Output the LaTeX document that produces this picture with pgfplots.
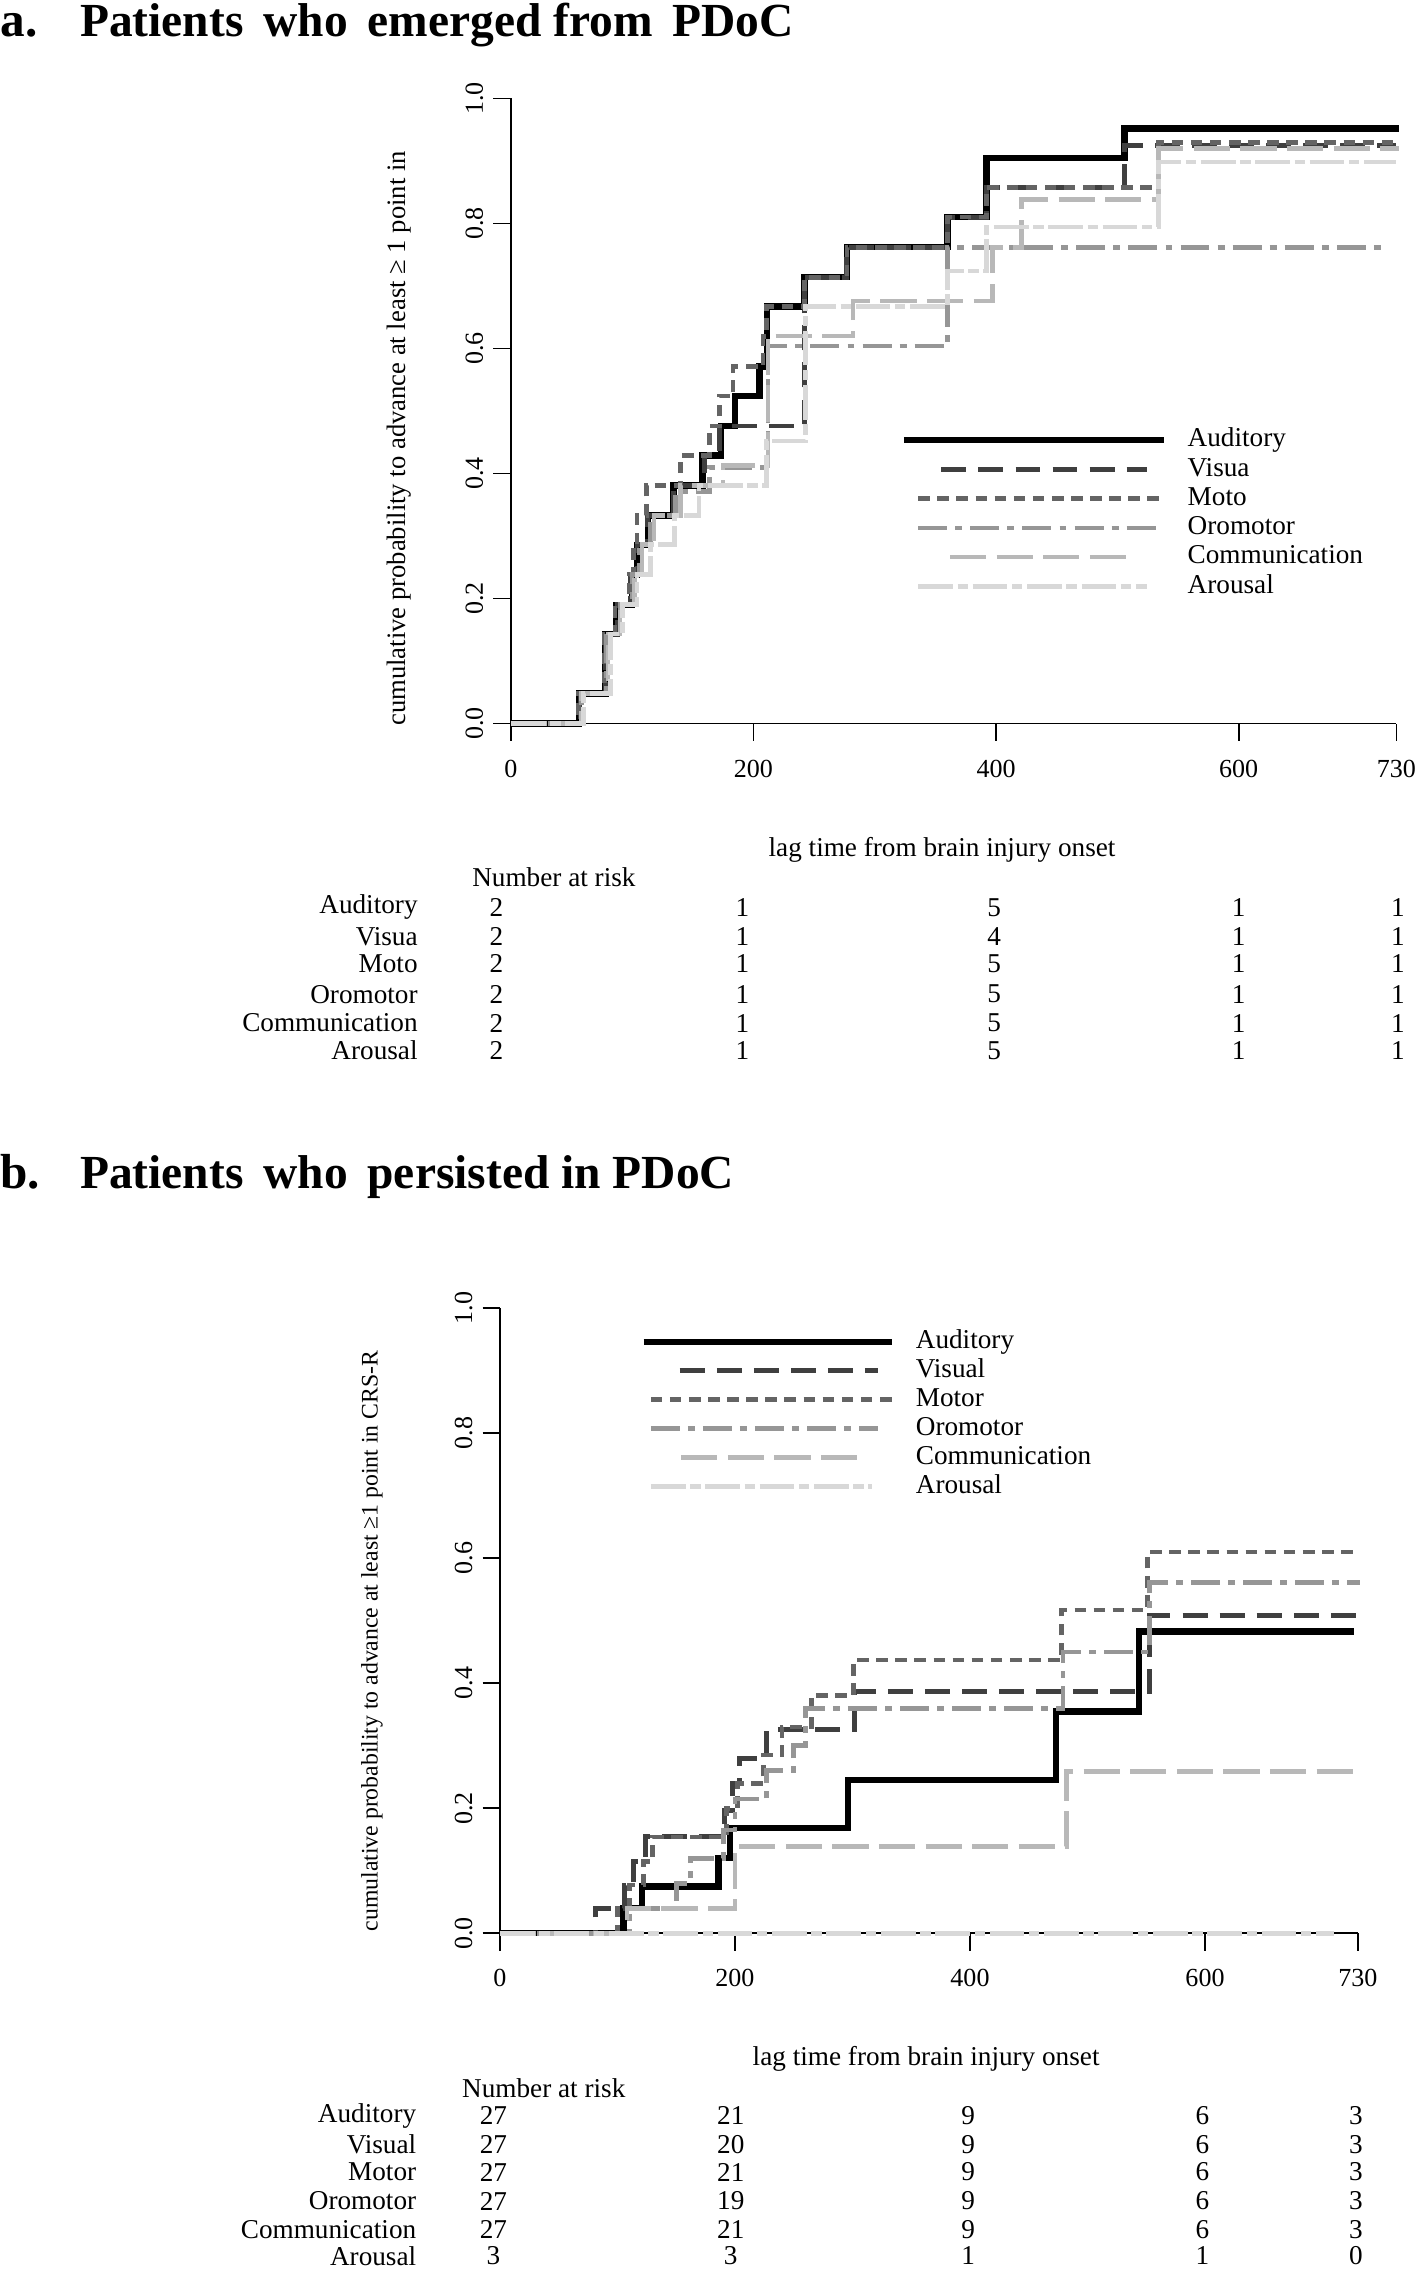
\documentclass[border=0pt]{standalone}
\usepackage{fontspec}
\setmainfont{Liberation Serif}
\usepackage{pgfplots}
\pgfplotsset{compat=1.18}

\definecolor{cvis}{HTML}{3F3F3F}
\definecolor{cmot}{HTML}{646464}
\definecolor{coro}{HTML}{969696}
\definecolor{ccom}{HTML}{B8B8B8}
\definecolor{caro}{HTML}{D8D8D8}

\newcommand{\ff}{\fontsize{9.4}{11}\selectfont}
\newcommand{\tf}{\fontsize{9}{11}\selectfont}

\pgfplotsset{
  limg/.style 2 args={legend image code/.code={\draw[##1] (#1,0pt) -- (#2,0pt);}},
  km/.style={
    scale only axis,
    xmin=0, xmax=730, ymin=0, ymax=1,
    axis lines=left,
    axis line style={-, line width=0.6pt, black},
    xtick={0,200,400,600,730},
    ytick={0,0.2,0.4,0.6,0.8,1.0},
    tick align=outside,
    major tick length=6pt,
    tick style={line width=0.6pt, black},
    /pgf/number format/assume math mode=true,
    yticklabel style={rotate=90, anchor=south, /pgf/number format/.cd, fixed, fixed zerofill, precision=1},
    ticklabel style={font=\tf},
    xticklabel shift=3pt,
    clip=false,
    legend cell align=left,
  },
  aud/.style={black, line width=2.2pt, const plot},
  vis/.style={cvis, line width=1.7pt, const plot, dash pattern=on 8.6pt off 4.2pt},
  mot/.style={cmot, line width=1.6pt, const plot, dash pattern=on 4pt off 2.6pt},
  oro/.style={coro, line width=1.6pt, const plot, dash pattern=on 10pt off 2.8pt on 2.4pt off 2.8pt},
  com/.style={ccom, line width=1.6pt, const plot, dash pattern=on 12.5pt off 3.6pt},
  aro/.style={caro, line width=1.6pt, const plot, dash pattern=on 12pt off 1.6pt on 3.6pt off 1.6pt},
}

\begin{document}
\begin{tikzpicture}
\useasboundingbox (0pt,0pt) rectangle (490pt,-784pt);

% ---------------- panel a ----------------
\begin{axis}[km, at={(176.5pt,-250pt)}, anchor=south west, width=306pt, height=216pt,
  legend style={draw=none, fill=none, at={(0.4395,0.474)}, anchor=north west,
    font=\ff, inner sep=0pt, row sep=1.5pt, column sep=7pt,
    nodes={inner sep=0pt, text height=6.6pt, text depth=2pt}}]
\addplot[aud, limg={0pt}{90pt}] coordinates {(0,0) (56,0.048) (78,0.143) (87,0.190) (100,0.238) (104,0.286) (113,0.333) (134,0.381) (158,0.429) (173,0.476) (185,0.524) (205,0.571) (211,0.667) (242,0.714) (277,0.762) (360,0.810) (392,0.905) (506,0.952) (732,0.952)};
\addplot[vis, limg={13pt}{84pt}] coordinates {(0,0) (57,0.048) (78,0.143) (88,0.190) (99,0.238) (104,0.286) (113,0.333) (134,0.381) (160,0.429) (172,0.476) (242,0.714) (277,0.762) (360,0.810) (392,0.857) (506,0.925) (730,0.925)};
\addplot[mot, limg={5pt}{90pt}] coordinates {(0,0) (56,0.048) (77,0.143) (86,0.190) (98,0.238) (101,0.286) (104,0.333) (112,0.381) (140,0.429) (164,0.476) (172,0.524) (183,0.571) (208,0.619) (211,0.667) (242,0.714) (277,0.762) (360,0.810) (392,0.857) (534,0.929) (732,0.929)};
\addplot[oro, limg={5pt}{87pt}] coordinates {(0,0) (58,0.048) (79,0.143) (90,0.190) (100,0.238) (106,0.286) (115,0.333) (136,0.371) (164,0.410) (212,0.604) (360,0.762) (718,0.762)};
\addplot[com, limg={16pt}{79pt}] coordinates {(0,0) (58,0.048) (80,0.143) (90,0.190) (102,0.238) (108,0.286) (118,0.333) (140,0.381) (175,0.413) (212,0.620) (282,0.676) (397,0.762) (421,0.838) (534,0.920) (732,0.920)};
\addplot[aro, limg={5pt}{84pt}] coordinates {(0,0) (60,0.048) (82,0.143) (92,0.190) (104,0.238) (115,0.286) (135,0.333) (155,0.381) (211,0.452) (243,0.667) (360,0.724) (392,0.794) (534,0.898) (730,0.898)};
\legend{Auditory, Visua, Moto, Oromotor, Communication, Arousal}
\end{axis}

% ---------------- panel b ----------------
\begin{axis}[km, at={(172.75pt,-668pt)}, anchor=south west, width=296.4pt, height=216pt,
  legend style={draw=none, fill=none, at={(0.163,0.967)}, anchor=north west,
    font=\ff, inner sep=0pt, row sep=1.4pt, column sep=7pt,
    nodes={inner sep=0pt, text height=6.6pt, text depth=2pt}}]
\addplot[aud, limg={0pt}{86pt}] coordinates {(0,0) (105,0.040) (121,0.075) (186,0.120) (196,0.168) (296,0.245) (473,0.355) (544,0.483) (727,0.483)};
\addplot[vis, limg={12.5pt}{81pt}] coordinates {(0,0) (81,0.040) (106,0.077) (114,0.115) (124,0.155) (191,0.197) (198,0.240) (204,0.280) (227,0.326) (302,0.387) (553,0.508) (730,0.508)};
\addplot[mot, limg={2.5pt}{86pt}] coordinates {(0,0) (100,0.040) (110,0.077) (122,0.115) (130,0.154) (193,0.200) (202,0.240) (224,0.285) (240,0.330) (265,0.380) (301,0.437) (478,0.517) (551,0.610) (732,0.610)};
\addplot[oro, limg={2.5pt}{81pt}] coordinates {(0,0) (110,0.040) (150,0.080) (162,0.120) (190,0.165) (200,0.215) (227,0.260) (250,0.300) (260,0.360) (479,0.450) (553,0.561) (732,0.561)};
\addplot[com, limg={13pt}{76pt}] coordinates {(0,0) (108,0.040) (200,0.139) (482,0.259) (732,0.259)};
\addplot[aro, limg={2.5pt}{79pt}] coordinates {(0,0) (710,0)};
\legend{Auditory, Visual, Motor, Oromotor, Communication, Arousal}
\end{axis}

% ---------------- text (display px, 0.5pt each) ----------------
\begin{scope}[x=0.5pt, y=-0.5pt]
  \node[anchor=base west, inner sep=0pt, font=\fontsize{17}{20}\selectfont\bfseries] at (0,25) {a.};
  \node[anchor=base west, inner sep=0pt, font=\fontsize{16.4}{20}\selectfont\bfseries] at (55,25) {Patients\, who\, emerged from\, PDoC};
  \node[anchor=base west, inner sep=0pt, font=\fontsize{17}{20}\selectfont\bfseries] at (0,821) {b.};
  \node[anchor=base west, inner sep=0pt, font=\fontsize{16.4}{20}\selectfont\bfseries] at (55,821) {Patients\, who\, persisted in PDoC};

  \node[rotate=90, font=\fontsize{9.2}{11}\selectfont, inner sep=0pt] at (276,303) {cumulative probability to advance at least ≥ 1 point in};
  \node[rotate=90, font=\fontsize{8.2}{10}\selectfont, inner sep=0pt] at (257,1134) {cumulative probability to advance at least ≥1 point in CRS-R};
  \node[font=\ff, inner sep=0pt] at (651,587) {lag time from brain injury onset};
  \node[font=\ff, inner sep=0pt] at (640,1423) {lag time from brain injury onset};

  % number at risk, panel a
  \node[font=\ff, inner sep=0pt, anchor=west] at (326,606) {Number at risk};
  \foreach \lab/\y/\a/\b/\c/\d/\e in {Auditory/627/2/1/5/1/1, Visua/647/2/1/4/1/1, Moto/666/2/1/5/1/1, Oromotor/687/2/1/5/1/1, Communication/707/2/1/5/1/1, Arousal/726/2/1/5/1/1}{
    \node[font=\ff, inner sep=0pt, anchor=east] at (289,\y) {\lab};
    \node[font=\ff, inner sep=0pt] at (343,\y) {\a};
    \node[font=\ff, inner sep=0pt] at (513,\y) {\b};
    \node[font=\ff, inner sep=0pt] at (687,\y) {\c};
    \node[font=\ff, inner sep=0pt] at (856,\y) {\d};
    \node[font=\ff, inner sep=0pt] at (966,\y) {\e};
  }
  % number at risk, panel b
  \node[font=\ff, inner sep=0pt, anchor=west] at (319,1443) {Number at risk};
  \foreach \lab/\y/\a/\b/\c/\d/\e in {Auditory/1462/27/21/9/6/3, Visual/1482/27/20/9/6/3, Motor/1501/27/21/9/6/3, Oromotor/1521/27/19/9/6/3, Communication/1541/27/21/9/6/3, Arousal/1559/3/3/1/1/0}{
    \node[font=\ff, inner sep=0pt, anchor=east] at (288,\y) {\lab};
    \node[font=\ff, inner sep=0pt] at (341,\y) {\a};
    \node[font=\ff, inner sep=0pt] at (505,\y) {\b};
    \node[font=\ff, inner sep=0pt] at (669,\y) {\c};
    \node[font=\ff, inner sep=0pt] at (831,\y) {\d};
    \node[font=\ff, inner sep=0pt] at (937,\y) {\e};
  }
\end{scope}
\end{tikzpicture}
\end{document}
